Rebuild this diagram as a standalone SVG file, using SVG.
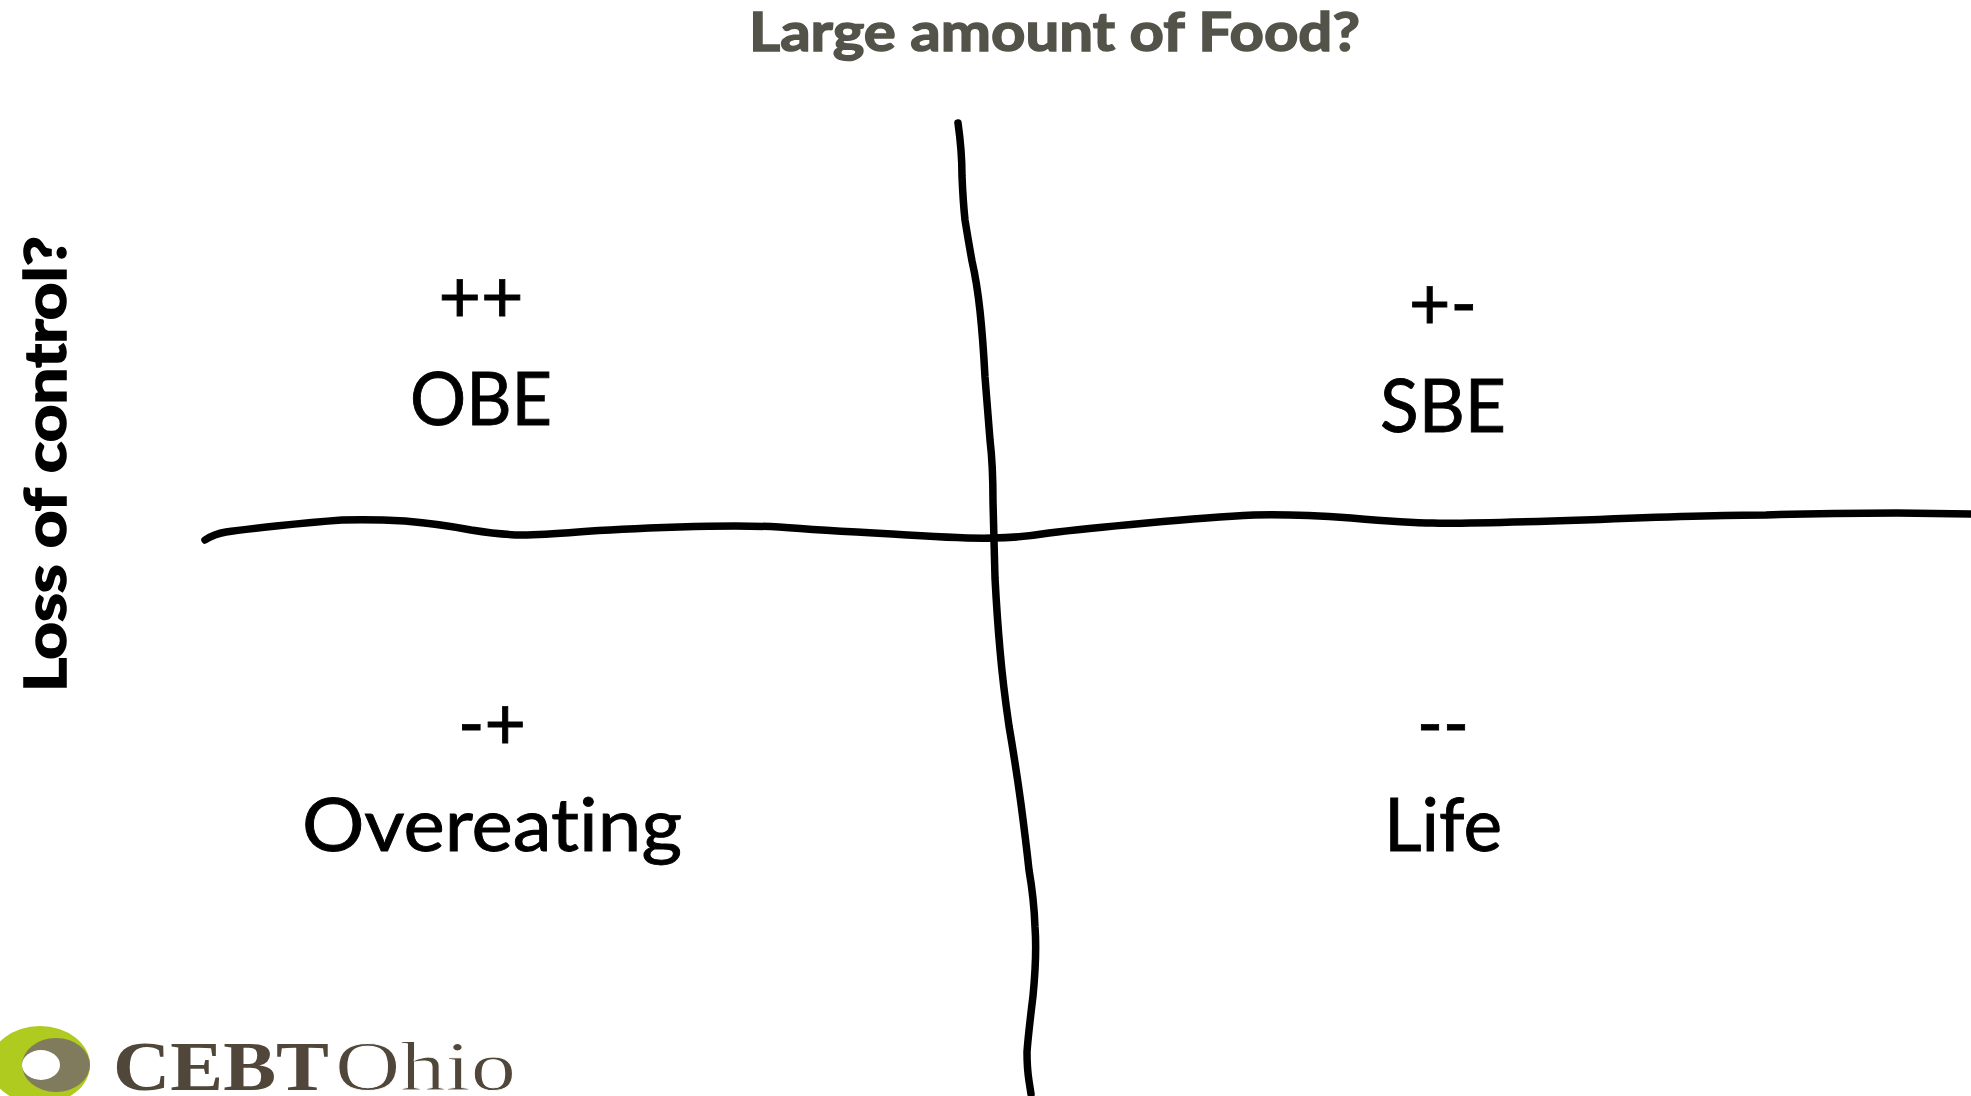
<svg xmlns="http://www.w3.org/2000/svg" width="1971" height="1096" viewBox="0 0 1971 1096">
<style>
.l{font-family:"Lato","Open Sans",sans-serif;font-size:73px;fill:#000;stroke:#000;stroke-width:.9px;text-anchor:middle;font-variant-ligatures:none}
.h{font-family:"Lato","Open Sans",sans-serif;font-weight:700;font-size:54px;stroke-width:1.500px;font-variant-ligatures:none}
.s{font-family:"Liberation Serif",serif;font-size:69px;fill:#50463a}
.c{fill:none;stroke:#000;stroke-width:7.500px;stroke-linecap:round;stroke-linejoin:round}
</style>
<rect width="1971" height="1096" fill="#fff"/>
<g id="connectors">
<path class="c" d="M205 540 Q214 534 226 532 Q239 530 276 526 Q314 522 342 520 Q371 519 405 521 Q440 524 471 530 Q503 535 522 535 Q541 535 578 532 Q616 529 679 527 Q742 525 779 527 Q817 530 892 534 Q968 539 993 538 Q1018 538 1049 533 Q1081 529 1147 523 Q1213 517 1254 515 Q1295 514 1351 518 Q1408 523 1433 523 Q1458 524 1584 520 Q1710 515 1766 515 Q1823 513 1897 513 L1971 514"/>
<path class="c" d="M958 123 Q962 151 962 176 Q963 201 965 220 Q968 239 972 261 Q977 283 980 311 Q983 339 985 377 Q988 415 990 440 Q993 465 993 502 Q994 540 995 578 Q997 616 1000 650 Q1003 685 1009 726 Q1016 767 1021 804 Q1026 842 1029 870 Q1034 899 1035 927 Q1037 955 1033 996 Q1028 1037 1027 1052 Q1027 1068 1029 1081 L1031 1094"/>
</g>
<g id="title-x"><text class="h" x="749" y="51" fill="#53534a" stroke="#53534a" textLength="611" lengthAdjust="spacingAndGlyphs">Large amount of Food?</text></g>
<g id="title-y"><text class="h" transform="translate(66 692) rotate(-90) scale(1 1.060)" fill="#000" stroke="#000" textLength="456" lengthAdjust="spacingAndGlyphs">Loss of control?</text></g>
<g id="obe"><text class="l" x="481" y="322" textLength="85" lengthAdjust="spacingAndGlyphs">++</text><text class="l" x="481" y="425" textLength="142" lengthAdjust="spacingAndGlyphs">OBE</text></g>
<g id="sbe"><text class="l" x="1443" y="329" textLength="68" lengthAdjust="spacingAndGlyphs">+-</text><text class="l" x="1443" y="432" textLength="126" lengthAdjust="spacingAndGlyphs">SBE</text></g>
<g id="overeating"><text class="l" x="492" y="749" textLength="68" lengthAdjust="spacingAndGlyphs">-+</text><text class="l" x="492" y="851" textLength="380" lengthAdjust="spacingAndGlyphs">Overeating</text></g>
<g id="life"><text class="l" x="1443" y="749" textLength="52" lengthAdjust="spacingAndGlyphs">--</text><text class="l" x="1443" y="851" textLength="118" lengthAdjust="spacingAndGlyphs">Life</text></g>
<g id="logo">
<ellipse cx="40" cy="1065" rx="50" ry="39" fill="#b0cb1f"/>
<ellipse cx="56" cy="1065" rx="34" ry="27" fill="#807b5c"/>
<ellipse cx="41" cy="1065" rx="19" ry="15" fill="#fff"/>
<text class="s" x="113" y="1090" font-weight="700" textLength="216" lengthAdjust="spacingAndGlyphs">CEBT</text>
<text class="s" x="335" y="1090" stroke="#fff" stroke-width=".9" textLength="181" lengthAdjust="spacingAndGlyphs">Ohio</text>
</g>
</svg>
